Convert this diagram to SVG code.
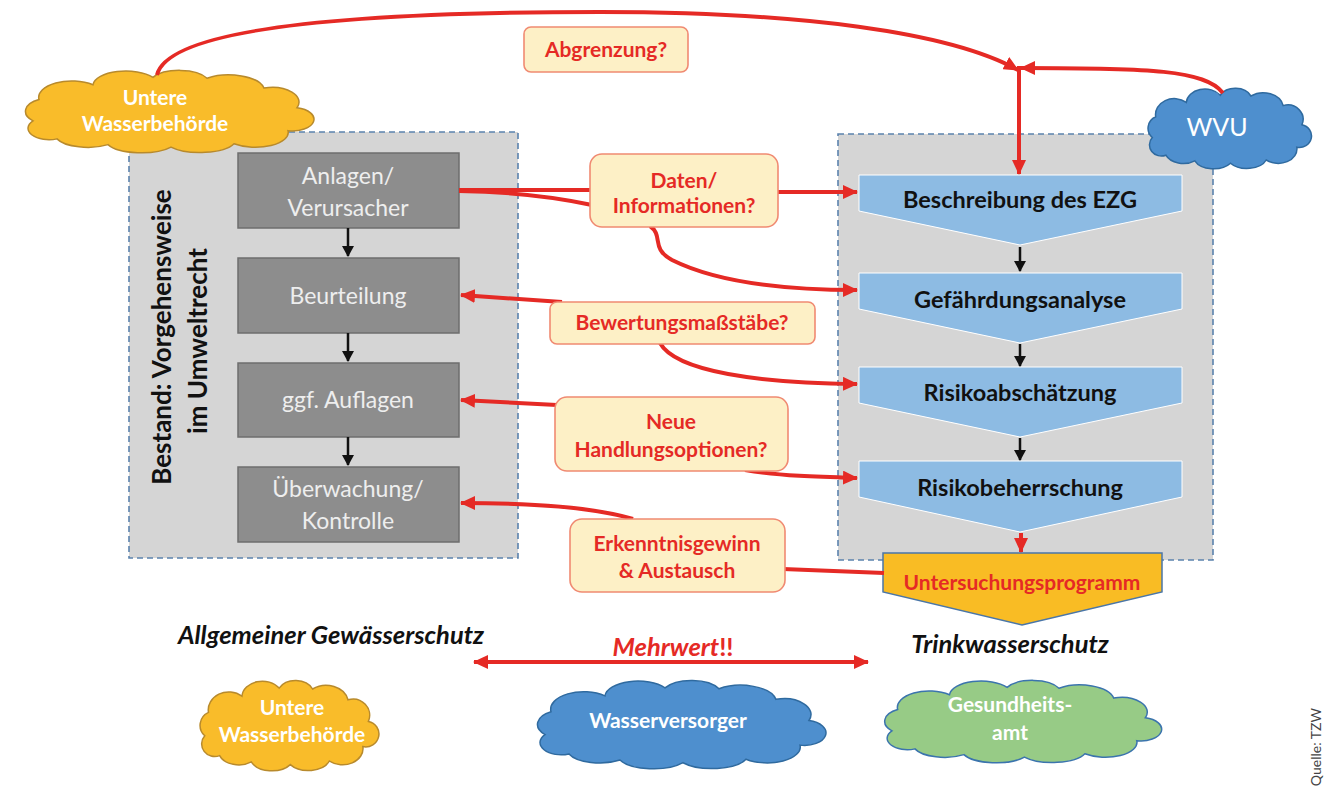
<svg xmlns="http://www.w3.org/2000/svg" width="1325" height="789" viewBox="0 0 1325 789">
<style>
text{font-family:Lato,"Open Sans","Liberation Sans",sans-serif}
.panel{fill:#d5d5d5;stroke:#5b82ad;stroke-width:1.6;stroke-dasharray:6 4}
.gbox{fill:#8d8d8d;stroke:#6e6e6e;stroke-width:1.5}
.gtxt{fill:#eeeeee;font-size:23px;text-anchor:middle}
.chev{fill:#8dbbe3;stroke:#ffffff;stroke-width:1}
.ctxt{fill:#111;font-size:23.5px;font-weight:bold;text-anchor:middle}
.ybox{fill:#fdf0c6;stroke:#f08a72;stroke-width:1.6}
.rtxt{fill:#e52a25;font-size:21px;font-weight:bold;text-anchor:middle}
.red{fill:none;stroke:#e52a25;stroke-width:4}
.blk{fill:none;stroke:#111;stroke-width:2.5}
.cloudtxt{fill:#ffffff;font-size:21px;font-weight:bold;text-anchor:middle}
.ital{fill:#111;font-size:25.5px;font-weight:bold;font-style:italic;text-anchor:middle}
</style>
<defs>
<marker id="ra" markerUnits="userSpaceOnUse" markerWidth="16" markerHeight="14" refX="14" refY="7" orient="auto-start-reverse">
<path d="M0,0 L15,7 L0,14 Z" fill="#e52a25"/>
</marker>
<marker id="ba" markerUnits="userSpaceOnUse" markerWidth="12" markerHeight="12" refX="10" refY="6" orient="auto">
<path d="M0,0 L11,6 L0,12 Z" fill="#111"/>
</marker>
<path id="cloud" vector-effect="non-scaling-stroke" d="M18,62 A16,16 0 0 1 22,36 A22,20 0 0 1 58,18 A22,18 0 0 1 98,9 A20,16 0 0 1 134,10 A24,20 0 0 1 172,22 A18,18 0 0 1 194,46 A14,14 0 0 1 188,74 A22,18 0 0 1 152,90 A24,16 0 0 1 110,94 A24,16 0 0 1 68,91 A22,16 0 0 1 34,84 A14,14 0 0 1 18,62 Z"/>
</defs>

<rect x="0" y="0" width="1325" height="789" fill="#ffffff"/>

<!-- panels -->
<g id="panel-left">
<rect class="panel" x="129" y="132" width="389" height="426"/>
<text fill="#111" font-size="26" font-weight="bold" text-anchor="middle" transform="translate(171,337) rotate(-90)">Bestand: Vorgehensweise</text>
<text fill="#111" font-size="26" font-weight="bold" text-anchor="middle" transform="translate(207,341) rotate(-90)">im Umweltrecht</text>
</g>
<g id="panel-right">
<rect class="panel" x="838" y="134" width="375" height="426"/>
</g>

<!-- top-left cloud -->
<g id="cloud-uwb-top">
<use href="#cloud" transform="translate(6,70) scale(1.5,0.82)" fill="#f9bc2a" stroke="#b88a2c" stroke-width="1.5"/>
<text class="cloudtxt" x="155" y="105">Untere</text>
<text class="cloudtxt" x="155" y="131">Wasserbehörde</text>
</g>

<g id="cloud-wvu">
<use href="#cloud" transform="translate(1137,88) scale(0.85,0.8)" fill="#4e8fce" stroke="#2f6a9f" stroke-width="1.5"/>
<text fill="#ffffff" font-size="25" text-anchor="middle" x="1217" y="136">WVU</text>
</g>

<!-- gray boxes -->
<g id="n-anlagen">
<rect class="gbox" x="238" y="153" width="221" height="75"/>
<text class="gtxt" x="348" y="184">Anlagen/</text>
<text class="gtxt" x="348" y="216">Verursacher</text>
</g>
<g id="n-beurteilung">
<rect class="gbox" x="238" y="258" width="221" height="75"/>
<text class="gtxt" x="348" y="304">Beurteilung</text>
</g>
<g id="n-auflagen">
<rect class="gbox" x="238" y="363" width="221" height="74"/>
<text class="gtxt" x="348" y="408">ggf. Auflagen</text>
</g>
<g id="n-ueberwachung">
<rect class="gbox" x="238" y="467" width="221" height="75"/>
<text class="gtxt" x="348" y="497">Überwachung/</text>
<text class="gtxt" x="348" y="529">Kontrolle</text>
</g>

<!-- chevrons -->
<g id="n-beschreibung">
<polygon class="chev" points="859,175 1182,175 1182,211 1020,245 859,211"/>
<text class="ctxt" x="1020" y="208">Beschreibung des EZG</text>
</g>
<g id="n-gefaehrdung">
<polygon class="chev" points="859,273 1182,273 1182,309 1020,343 859,309"/>
<text class="ctxt" x="1020" y="308">Gefährdungsanalyse</text>
</g>
<g id="n-risikoabschaetzung">
<polygon class="chev" points="859,367 1182,367 1182,403 1020,437 859,403"/>
<text class="ctxt" x="1020" y="401">Risikoabschätzung</text>
</g>
<g id="n-risikobeherrschung">
<polygon class="chev" points="859,461 1182,461 1182,497 1020,532 859,497"/>
<text class="ctxt" x="1020" y="496">Risikobeherrschung</text>
</g>
<g id="n-untersuchung">
<polygon points="883,553 1162,553 1162,592 1022,625 883,592" fill="#f9bc24" stroke="#4a76a8" stroke-width="1.5"/>
<text fill="#e52a25" font-size="21" font-weight="bold" text-anchor="middle" x="1022" y="590">Untersuchungsprogramm</text>
</g>

<!-- connectors -->
<g id="connectors">
<path class="blk" d="M348,228 L348,256" marker-end="url(#ba)"/>
<path class="blk" d="M348,333 L348,361" marker-end="url(#ba)"/>
<path class="blk" d="M348,437 L348,465" marker-end="url(#ba)"/>
<path class="blk" d="M1020,247 L1020,271" marker-end="url(#ba)"/>
<path class="blk" d="M1020,344 L1020,366" marker-end="url(#ba)"/>
<path class="blk" d="M1020,438 L1020,460" marker-end="url(#ba)"/>
<path class="red" d="M1021,533 L1021,552" marker-end="url(#ra)"/>

<path class="red" d="M157,75 C170,20 420,12 600,12 C800,12 950,32 1018,70" marker-end="url(#ra)"/>
<path class="red" d="M1223,93 C1205,70 1150,68 1021,68" marker-end="url(#ra)"/>
<path class="red" d="M1019,66 L1019,174" marker-end="url(#ra)"/>

<path class="red" d="M459,190 L592,190"/>
<path class="red" d="M459,191 C520,192 560,198 592,205"/>
<path class="red" d="M777,192 L857,192" marker-end="url(#ra)"/>
<path class="red" d="M650,226 C664,236 650,248 672,260 C720,284 790,290 857,290" marker-end="url(#ra)"/>

<path class="red" d="M562,302 L461,295" marker-end="url(#ra)"/>
<path class="red" d="M660,343 C676,372 760,383 857,384" marker-end="url(#ra)"/>

<path class="red" d="M557,405 L461,400" marker-end="url(#ra)"/>
<path class="red" d="M745,470 C780,476 820,477 857,478" marker-end="url(#ra)"/>

<path class="red" d="M633,519 C590,506 520,503 461,503" marker-end="url(#ra)"/>
<path class="red" d="M783,569 L884,573"/>

<path class="red" d="M474,662 L868,662" marker-start="url(#ra)" marker-end="url(#ra)"/>
</g>

<!-- label boxes -->
<g id="n-abgrenzung">
<rect class="ybox" x="524" y="27" width="164" height="45" rx="7"/>
<text class="rtxt" x="606" y="57">Abgrenzung?</text>
</g>
<g id="n-daten">
<rect class="ybox" x="590" y="154" width="188" height="73" rx="12"/>
<text class="rtxt" x="684" y="188">Daten/</text>
<text class="rtxt" x="684" y="213">Informationen?</text>
</g>
<g id="n-bewertung">
<rect class="ybox" x="550" y="302" width="265" height="42" rx="7"/>
<text class="rtxt" x="682" y="330">Bewertungsmaßstäbe?</text>
</g>
<g id="n-handlung">
<rect class="ybox" x="555" y="397" width="233" height="74" rx="12"/>
<text class="rtxt" x="671" y="429">Neue</text>
<text class="rtxt" x="671" y="457">Handlungsoptionen?</text>
</g>
<g id="n-erkenntnis">
<rect class="ybox" x="570" y="519" width="215" height="73" rx="12"/>
<text class="rtxt" x="677" y="551">Erkenntnisgewinn</text>
<text class="rtxt" x="677" y="578">&amp; Austausch</text>
</g>

<!-- bottom labels -->
<g id="labels">
<text class="ital" x="331" y="644">Allgemeiner Gewässerschutz</text>
<text class="ital" x="1010" y="653">Trinkwasserschutz</text>
<text x="673" y="656" font-size="25.5" font-weight="bold" text-anchor="middle" fill="#e52a25"><tspan font-style="italic">Mehrwert</tspan>!!</text>
</g>

<g id="cloud-uwb-bottom">
<use href="#cloud" transform="translate(188,680) scale(0.93,0.9)" fill="#f9bc2a" stroke="#b88a2c" stroke-width="1.5"/>
<text class="cloudtxt" x="292" y="715">Untere</text>
<text class="cloudtxt" x="292" y="742">Wasserbehörde</text>
</g>
<g id="cloud-wasserversorger">
<use href="#cloud" transform="translate(518,680) scale(1.5,0.88)" fill="#4e8fce" stroke="#2f6a9f" stroke-width="1.5"/>
<text class="cloudtxt" x="668" y="728">Wasserversorger</text>
</g>
<g id="cloud-gesundheitsamt">
<use href="#cloud" transform="translate(866,680) scale(1.44,0.82)" fill="#97cb86" stroke="#3b74ad" stroke-width="1.5"/>
<text class="cloudtxt" x="1010" y="712">Gesundheits-</text>
<text class="cloudtxt" x="1010" y="740">amt</text>
</g>

<text fill="#444" font-size="14" text-anchor="end" font-family="Liberation Sans, sans-serif" transform="translate(1321,708) rotate(-90)">Quelle: TZW</text>
</svg>
